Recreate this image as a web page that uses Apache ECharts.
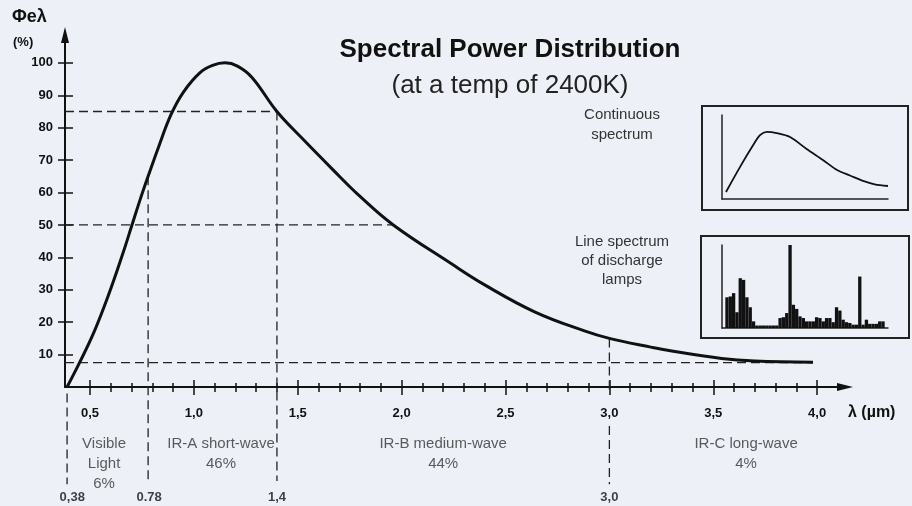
<!DOCTYPE html>
<html>
<head>
<meta charset="utf-8">
<script src="https://cdn.jsdelivr.net/npm/echarts@6/dist/echarts.min.js"></script>
<style>
html, body { margin: 0; padding: 0; background: #edf0f7; }
#main { width: 912px; height: 506px; }
</style>
</head>
<body>
<div id="main"></div>
<script>
const FONT = '"Liberation Sans", Arial, sans-serif';

//----------- Data
// main curve: wavelength (µm) and relative power (%)
const curveLambda = [0.39, 0.45, 0.52, 0.59, 0.66, 0.70, 0.74, 0.78, 0.83, 0.89, 0.95, 1.03, 1.09, 1.15,
                     1.21, 1.28, 1.40, 1.52, 1.67, 1.80, 1.96, 2.24, 2.40, 2.64, 2.88, 3.00, 3.20, 3.30,
                     3.54, 3.70, 3.98];
const curvePower  = [0, 7.5, 17, 28.5, 41.5, 49.5, 57.5, 65, 74, 84, 91, 97, 99.2, 100,
                     99, 95.5, 85, 76.8, 67, 58.8, 50, 38, 31.5, 23.2, 17.3, 15, 12.3, 11.1,
                     8.8, 8.0, 7.6];

// x tick labels (µm) and y tick labels (%)
const xMajor = [0.5, 1.0, 1.5, 2.0, 2.5, 3.0, 3.5, 4.0];
const yMajor = [10, 20, 30, 40, 50, 60, 70, 80, 90, 100];

// band limits drawn as dashed lines
const guideLines = [
    [[0.38, 85], [1.40, 85]],
    [[0.38, 50], [1.96, 50]],
    [[0.38, 7.5], [3.98, 7.5]],
    [[0.39, -2], [0.39, -30]],
    [[0.78, 65], [0.78, -29]],
    [[1.40, 85], [1.40, -29]],
    [[3.00, 15], [3.00, -2]],
    [[3.00, -12], [3.00, -30]]
];
const limitNames = ["0,38", "0.78", "1,4", "3,0"];
const limitPos   = [0.415, 0.785, 1.40, 3.00];

// bands below the axis
const bandNames  = ["Visible\nLight", "IR-A short-wave", "IR-B medium-wave", "IR-C long-wave"];
const bandShares = ["6%", "46%", "44%", "4%"];
const bandCenter = [0.568, 1.131, 2.20, 3.658];

// small inset: continuous spectrum (relative units)
const contX = [2.4, 10.8, 18.7, 22.9, 27, 33, 41, 51, 60.8, 69.3, 77.1, 85, 92, 100];
const contY = [8.3, 38, 64, 76, 80, 78.5, 73.8, 59.5, 46.4, 34.5, 28, 21.5, 17.5, 15.5];

// small inset: line spectrum of discharge lamps (relative units per bin)
const lineSpec = [0, 37, 38, 42, 19, 60, 58, 37, 25, 8, 3, 3, 3, 3, 3, 3, 3, 12, 13, 18, 100, 28, 23, 14, 12,
                  8, 8, 8, 13, 12, 8, 12, 12, 7, 25, 21, 10, 7, 6, 4, 4, 62, 4, 10, 5, 5, 5, 8, 8, 0];
//----------- Data

const xMinor = [];
for (let i = 6; i < 40; i++) if (i % 5 !== 0) xMinor.push(i / 10);

const tickStyle = {color: "#111", width: 1.5};
const xBase = {
    type: "value", gridIndex: 0, min: 0.38, max: 4.134, position: "bottom",
    splitLine: {show: false}, axisLine: {show: false, onZero: false},
    axisLabel: {show: false}, axisTick: {show: false}
};
const yBase = {
    type: "value", gridIndex: 0, min: 0, max: 108.6, position: "left",
    splitLine: {show: false}, axisLine: {show: false, onZero: false},
    axisLabel: {show: false}, axisTick: {show: false}
};
const insetAxis = (grid, extra) => Object.assign({
    gridIndex: grid, splitLine: {show: false}, axisTick: {show: false}, axisLabel: {show: false},
    axisLine: {show: true, onZero: false, lineStyle: {color: "#222", width: 1.5}}
}, extra);

const myChart = echarts.init(document.getElementById("main"));

const option = {
    backgroundColor: "#edf0f7",
    animation: false,
    grid: [
        {left: 65, right: 67, top: 35, bottom: 119},
        {left: 722, width: 166, top: 115, height: 84},
        {left: 722, width: 166, top: 245, height: 83}
    ],
    xAxis: [
        Object.assign({}, xBase, {
            axisLine: {show: true, onZero: false, symbol: ["none", "triangle"], symbolSize: [8, 16],
                       lineStyle: {color: "#111", width: 2}},
            axisTick: {show: true, customValues: xMajor, length: 8, lineStyle: tickStyle},
            axisLabel: {show: true, customValues: xMajor, margin: 20, color: "#111",
                        fontFamily: FONT, fontWeight: "bold", fontSize: 13,
                        formatter: v => v.toFixed(1).replace(".", ",")}
        }),
        Object.assign({}, xBase, {axisTick: {show: true, inside: true, customValues: xMajor, length: 7, lineStyle: tickStyle}}),
        Object.assign({}, xBase, {axisTick: {show: true, customValues: xMinor, length: 5, lineStyle: tickStyle}}),
        Object.assign({}, xBase, {axisTick: {show: true, inside: true, customValues: xMinor, length: 4, lineStyle: tickStyle}}),
        insetAxis(1, {type: "value", min: 0, max: 100}),
        insetAxis(2, {type: "category", data: lineSpec.map((d, i) => i)})
    ],
    yAxis: [
        Object.assign({}, yBase, {
            axisLine: {show: true, onZero: false, symbol: ["none", "triangle"], symbolSize: [8, 16],
                       lineStyle: {color: "#111", width: 2}},
            axisTick: {show: true, customValues: yMajor, length: 7, lineStyle: tickStyle},
            axisLabel: {show: true, customValues: yMajor, margin: 12, color: "#111",
                        fontFamily: FONT, fontWeight: "bold", fontSize: 13}
        }),
        Object.assign({}, yBase, {axisTick: {show: true, inside: true, customValues: yMajor, length: 8, lineStyle: tickStyle}}),
        insetAxis(1, {type: "value", min: 0, max: 100}),
        insetAxis(2, {type: "value", min: 0, max: 100})
    ],
    series: [
        {
            type: "line", xAxisIndex: 0, yAxisIndex: 0, z: 5,
            smooth: 0.4, symbol: "none",
            lineStyle: {color: "#111", width: 3},
            data: curveLambda.map((l, i) => [l, curvePower[i]])
        },
        ...guideLines.map(pts => ({
            type: "line", xAxisIndex: 0, yAxisIndex: 0, z: 3, clip: false,
            symbol: "none", silent: true,
            lineStyle: {color: "#222", width: 1.3, type: [9, 5]},
            data: pts
        })),
        {
            type: "scatter", xAxisIndex: 0, yAxisIndex: 0, clip: false, symbolSize: 1,
            itemStyle: {color: "transparent"},
            label: {show: true, position: "inside", formatter: p => p.name, color: "#111",
                    fontFamily: FONT, fontWeight: "bold", fontSize: 13},
            data: limitNames.map((n, i) => ({name: n, value: [limitPos[i], -34]}))
        },
        {
            type: "scatter", xAxisIndex: 0, yAxisIndex: 0, clip: false, symbolSize: 1,
            itemStyle: {color: "transparent"},
            label: {show: true, position: "inside", formatter: p => p.name, color: "#333",
                    fontFamily: FONT, fontSize: 15, lineHeight: 20, align: "center"},
            data: bandNames.map((n, i) => ({
                name: n + "\n" + bandShares[i],
                value: [bandCenter[i], i === 0 ? -23.6 : -20.6]
            }))
        },
        {
            type: "line", xAxisIndex: 4, yAxisIndex: 2, smooth: 0.3, symbol: "none",
            lineStyle: {color: "#111", width: 1.8},
            data: contX.map((x, i) => [x, contY[i]])
        },
        {
            type: "bar", xAxisIndex: 5, yAxisIndex: 3, barCategoryGap: 0, barWidth: "100%",
            itemStyle: {color: "#111"},
            data: lineSpec
        }
    ],
    graphic: [
        {type: "text", x: 510, y: 50, style: {text: "Spectral Power Distribution", fill: "#111",
            font: "bold 26px " + FONT, textAlign: "center", textVerticalAlign: "middle"}},
        {type: "text", x: 510, y: 86, style: {text: "(at a temp of 2400K)", fill: "#222",
            font: "26px " + FONT, textAlign: "center", textVerticalAlign: "middle"}},
        {type: "text", x: 12, y: 17, style: {text: "Φeλ", fill: "#111",
            font: "bold 18px " + FONT, textAlign: "left", textVerticalAlign: "middle"}},
        {type: "text", x: 13, y: 42, style: {text: "(%)", fill: "#111",
            font: "bold 13px " + FONT, textAlign: "left", textVerticalAlign: "middle"}},
        {type: "text", x: 848, y: 413, style: {text: "λ (µm)", fill: "#111",
            font: "bold 16px " + FONT, textAlign: "left", textVerticalAlign: "middle"}},
        {type: "text", x: 622, y: 105, style: {text: "Continuous\nspectrum", fill: "#333",
            font: "15px " + FONT, lineHeight: 20, textAlign: "center", textVerticalAlign: "top"}},
        {type: "text", x: 622, y: 232, style: {text: "Line spectrum\nof discharge\nlamps", fill: "#333",
            font: "15px " + FONT, lineHeight: 19, textAlign: "center", textVerticalAlign: "top"}},
        {type: "rect", shape: {x: 702, y: 106, width: 206, height: 104},
            style: {fill: "none", stroke: "#222", lineWidth: 2}},
        {type: "rect", shape: {x: 701, y: 236, width: 208, height: 102},
            style: {fill: "none", stroke: "#222", lineWidth: 2}}
    ]
};

myChart.setOption(option);
</script>
</body>
</html>
